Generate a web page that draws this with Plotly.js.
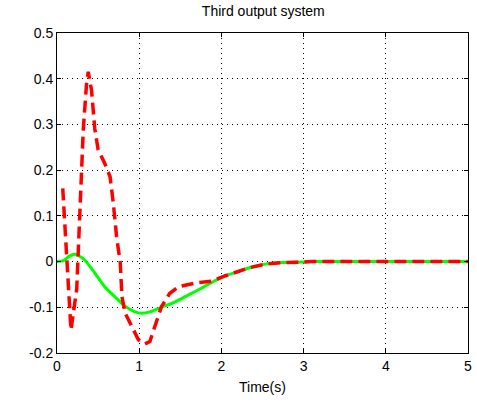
<!DOCTYPE html>
<html>
<head>
<meta charset="utf-8">
<script src="https://cdn.plot.ly/plotly-3.0.1.min.js"></script>
<style>html,body{margin:0;padding:0;background:#fff;}#chart{width:477px;height:406px;}</style>
</head>
<body>
<div id="chart"></div>
<script>
var greenT = [0, 0.08, 0.15, 0.22, 0.28, 0.34, 0.46, 0.58, 0.71, 0.83, 0.95, 1.03, 1.13, 1.27, 1.44, 1.6, 1.76, 1.92, 2.05, 2.2, 2.35, 2.55, 2.75, 3.0, 3.1, 3.5, 4.0, 4.5, 5.0];
var greenY = [0, 0.002, 0.012, 0.016, 0.011, 0.003, -0.025, -0.055, -0.078, -0.098, -0.110, -0.113, -0.110, -0.100, -0.088, -0.073, -0.058, -0.042, -0.031, -0.022, -0.013, -0.005, -0.002, -0.001, 0, 0, 0, 0, 0];
var redT = [0.07, 0.12, 0.17, 0.24, 0.28, 0.32, 0.36, 0.38, 0.42, 0.46, 0.50, 0.58, 0.645, 0.685, 0.725, 0.77, 0.79, 0.83, 0.91, 0.99, 1.07, 1.13, 1.19, 1.27, 1.37, 1.48, 1.68, 1.88, 2.05, 2.2, 2.35, 2.55, 2.75, 3.0, 3.1, 3.5, 4.0, 4.5, 5.0];
var redY = [0.16, 0.0, -0.15, -0.06, 0.098, 0.29, 0.39, 0.415, 0.375, 0.29, 0.245, 0.215, 0.186, 0.128, 0.054, -0.003, -0.077, -0.113, -0.142, -0.171, -0.180, -0.175, -0.142, -0.099, -0.070, -0.055, -0.047, -0.043, -0.031, -0.022, -0.013, -0.005, -0.002, -0.001, 0, 0, 0, 0, 0];
var xTicks = [0, 1, 2, 3, 4, 5];
var yTicks = [-0.2, -0.1, 0, 0.1, 0.2, 0.3, 0.4, 0.5];
var yTickText = ["-0.2", "-0.1", "0", "0.1", "0.2", "0.3", "0.4", "0.5"];

var traces = [
  {x: greenT, y: greenY, mode: 'lines', line: {color: '#00ff00', width: 3, shape: 'spline', smoothing: 0.6}, hoverinfo: 'skip'},
  {x: redT, y: redY, mode: 'lines', line: {color: '#ff0000', width: 3.5, dash: '12px,6px'}, hoverinfo: 'skip'}
];
var axisCommon = {
  showline: true, linecolor: '#000', linewidth: 1, mirror: 'ticks',
  ticks: 'inside', ticklen: 4, tickcolor: '#000',
  showgrid: true, gridcolor: '#000', griddash: '1px,4px', gridwidth: 1,
  zeroline: false,
  tickfont: {family: 'Liberation Sans, Arial, sans-serif', size: 14, color: '#000'}
};
var layout = {
  width: 477, height: 406,
  margin: {l: 57, r: 9, t: 33, b: 53},
  paper_bgcolor: '#fff', plot_bgcolor: '#fff',
  showlegend: false,
  title: {text: 'Third output system', font: {family: 'Liberation Sans, Arial, sans-serif', size: 14, color: '#000'}, x: 0.552, xanchor: 'center', y: 0.985, yanchor: 'top'},
  xaxis: Object.assign({}, axisCommon, {range: [0, 5], tickvals: xTicks, ticktext: xTicks.map(String),
    title: {text: 'Time(s)', font: {family: 'Liberation Sans, Arial, sans-serif', size: 14, color: '#000'}, standoff: 9}}),
  yaxis: Object.assign({}, axisCommon, {range: [-0.2, 0.5], tickvals: yTicks, ticktext: yTickText})
};
Plotly.newPlot('chart', traces, layout, {staticPlot: true, displayModeBar: false});
</script>
</body>
</html>
